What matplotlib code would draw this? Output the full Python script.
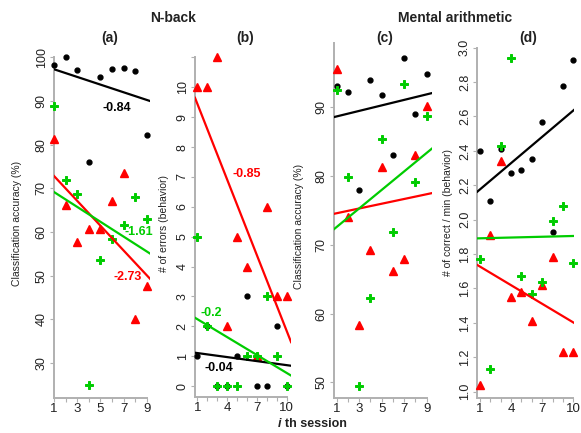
import numpy as np
import matplotlib
matplotlib.use("Agg")
import matplotlib.pyplot as plt

plt.rcParams['font.family'] = ['Liberation Sans', 'DejaVu Sans']

W, H = 581, 433

sess9 = np.arange(1, 10)
sess10 = np.arange(1, 11)

# (a) N-back classification accuracy
nb_acc_black = [98.2, 100.0, 97.0, 76.1, 95.5, 97.3, 97.6, 96.8, 82.3]
nb_acc_red = [81.4, 66.3, 57.7, 60.8, 60.8, 67.1, 73.5, 40.0, 47.6]
nb_acc_green = [88.9, 72.0, 68.6, 24.9, 53.6, 58.3, 61.6, 68.0, 62.9]

# (b) N-back number of errors
nb_err_black = [1, 2, 0, 0, 1, 3, 0, 0, 2, 0]
nb_err_red = [10, 10, 11, 2, 5, 4, 1, 6, 3, 3]
nb_err_green = [5, 2, 0, 0, 0, 1, 1, 3, 1, 0]

# (c) mental arithmetic classification accuracy
ma_acc_black = [93.1, 92.2, 77.9, 94.0, 91.8, 83.0, 97.2, 89.0, 94.8]
ma_acc_red = [95.6, 74.1, 58.3, 69.3, 81.3, 66.2, 68.0, 83.0, 90.1]
ma_acc_green = [92.5, 79.8, 49.5, 62.3, 85.3, 71.8, 93.3, 79.1, 88.7]

# (d) mental arithmetic correct / min
ma_rate_black = [2.40, 2.11, 2.41, 2.27, 2.29, 2.35, 2.57, 1.93, 2.78, 2.93]
ma_rate_red = [1.04, 1.91, 2.34, 1.55, 1.58, 1.41, 1.62, 1.78, 1.23, 1.23]
ma_rate_green = [1.77, 1.13, 2.43, 2.94, 1.67, 1.57, 1.64, 1.99, 2.08, 1.75]

# trend lines (intercept, slope), order black, red, green
fit_a = [(98.15, -0.878), (75.67, -2.84), (70.86, -1.70)]
fit_b = [(1.15, -0.045), (10.3, -0.845), (2.44, -0.20)]
fit_c = [(88.25, 0.40), (74.24, 0.345), (71.25, 1.344)]
fit_d = [(2.125, 0.051), (1.763, -0.0361), (1.89, 0.0015)]

RED = '#FF0000'
GREEN = '#00CC00'
AXC = '#B0B0B0'
TXT = '#222222'

fig = plt.figure(figsize=(W / 100, H / 100), dpi=100)


def px_axes(l, r, top, bot):
    return fig.add_axes([l / W, 1 - bot / H, (r - l) / W, (bot - top) / H])


def style(ax, xlim, ylim, xt, xlab, yt, ylab, ytop):
    ax.set_xlim(*xlim)
    ax.set_ylim(*ylim)
    for s in ['top', 'right']:
        ax.spines[s].set_visible(False)
    for s in ['left', 'bottom']:
        ax.spines[s].set_color(AXC)
        ax.spines[s].set_linewidth(1.4)
    ax.spines['left'].set_bounds(ylim[0], ytop)
    ax.spines['bottom'].set_bounds(xlim[0], xt[-1])
    ax.set_xticks(xt)
    ax.set_xticklabels(xlab)
    ax.set_yticks(yt)
    ax.set_yticklabels(ylab, rotation=90, va='center')
    ax.tick_params(direction='out', length=3, width=0.8, color=AXC,
                   labelsize=9, labelcolor=TXT, pad=1.5)
    ax.tick_params(axis='x', labelsize=9.5, pad=0.5)


def draw(ax, x, yb, yr, yg, fits):
    ax.plot(x, yb, 'o', color='black', ms=3.5, clip_on=False, zorder=3)
    ax.plot(x, yr, '^', color=RED, ms=5.5, clip_on=False, zorder=3)
    ax.plot(x, yg, 'P', color=GREEN, ms=6, mew=0.7, mec=GREEN,
            clip_on=False, zorder=4)
    for (b, m), c in zip(fits, ['black', RED, GREEN]):
        ax.axline((0, b), slope=m, color=c, lw=1.6, zorder=5)


def ylabel(ax, text, x, y):
    ax.set_ylabel(text, fontsize=7.5, color=TXT)
    ax.yaxis.set_label_coords(x / W, 1 - y / H, transform=fig.transFigure)


# (a)
ax = px_axes(54, 150.2, 48.6, 398)
draw(ax, sess9, nb_acc_black, nb_acc_red, nb_acc_green, fit_a)
style(ax, (1, 9.3), (22, 102), sess9,
      [str(v) if v % 2 else '' for v in sess9],
      np.arange(30, 101, 10), [str(v) for v in range(30, 101, 10)], 100)
ylabel(ax, 'Classification accuracy (%)', 22, 223)
ax.text(6.41, 88.5, '-0.84', color='black', fontsize=9, fontweight='bold', ha='center', va='center')
ax.text(8.33, 60.0, '-1.61', color=GREEN, fontsize=9, fontweight='bold', ha='center', va='center')
ax.text(7.38, 49.65, '-2.73', color=RED, fontsize=9, fontweight='bold', ha='center', va='center')

# (b)
ax = px_axes(195, 291.1, 48.5, 397.4)
draw(ax, sess10, nb_err_black, nb_err_red, nb_err_green, fit_b)
style(ax, (0.77, 10.45), (-0.38, 11.3), sess10,
      [str(v) if v % 3 == 1 else '' for v in sess10],
      np.arange(0, 12), [str(v) for v in range(0, 11)] + [''], 11)
ylabel(ax, '# of errors (behavior)', 169, 223)
ax.text(5.97, 7.1, '-0.85', color=RED, fontsize=9, fontweight='bold', ha='center', va='center')
ax.text(2.45, 2.43, '-0.2', color=GREEN, fontsize=9, fontweight='bold', ha='center', va='center')
ax.text(3.19, 0.59, '-0.04', color='black', fontsize=9, fontweight='bold', ha='center', va='center')

# (c)
ax = px_axes(334, 431.7, 43.1, 398.3)
draw(ax, sess9, ma_acc_black, ma_acc_red, ma_acc_green, fit_c)
style(ax, (0.76, 9.45), (47.7, 99.3), sess9,
      [str(v) if v % 2 else '' for v in sess9],
      np.arange(50, 91, 10), [str(v) for v in range(50, 91, 10)], 99.3)
ylabel(ax, 'Classification accuracy (%)', 304, 226)

# (d)
ax = px_axes(477.3, 574.4, 39.1, 398.3)
draw(ax, sess10, ma_rate_black, ma_rate_red, ma_rate_green, fit_d)
dt = np.round(np.arange(1.0, 3.01, 0.2), 1)
style(ax, (0.74, 10.1), (0.961, 3.05), sess10,
      [str(v) if v % 3 == 1 else '' for v in sess10],
      dt, ['%.1f' % v for v in dt], 3.0)
ylabel(ax, '# of correct / min (behavior)', 453, 212)

# titles
fig.text(173 / W, 1 - 18 / H, 'N-back', fontsize=10, fontweight='bold', ha='center', va='center', color=TXT)
fig.text(455 / W, 1 - 18 / H, 'Mental arithmetic', fontsize=10, fontweight='bold', ha='center', va='center', color=TXT)
for lab, x in zip(['(a)', '(b)', '(c)', '(d)'], [110, 245, 385, 528]):
    fig.text(x / W, 1 - 38 / H, lab, fontsize=10, fontweight='bold', ha='center', va='center', color=TXT)

fig.text(280 / W, 1 - 424 / H, 'i', fontsize=9, fontweight='bold', style='italic', ha='center', va='center', color=TXT)
fig.text(285 / W, 1 - 424 / H, 'th session', fontsize=9, fontweight='bold', ha='left', va='center', color=TXT)

fig.savefig('out.png', dpi=100)
